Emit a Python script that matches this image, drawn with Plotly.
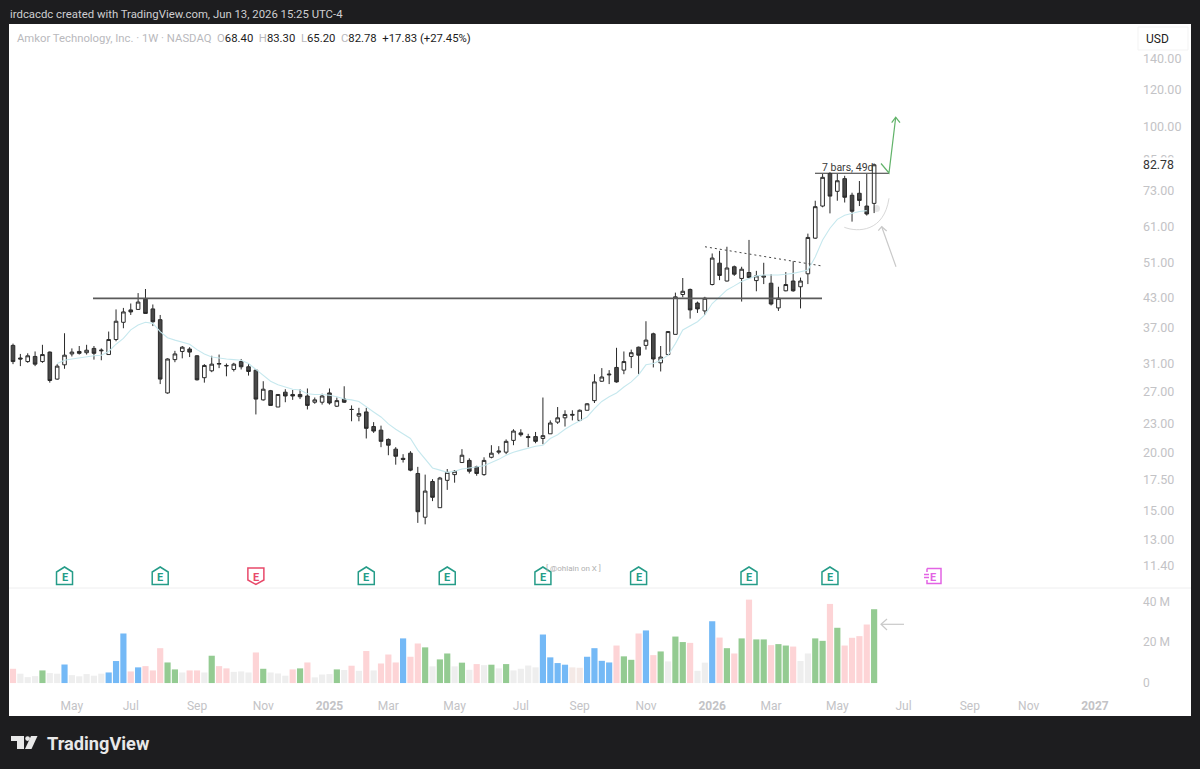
import math
import pandas as pd
import plotly.graph_objects as go

W, H = 1200, 769

# ---------- data ----------
first_week = "2024-03-11"
opens = [33.9,31.85,31.3,32.1,31.3,32.8,28.7,30.8,32.5,32.9,
 32.7,33.4,33.0,32.4,34.9,38.0,40.4,40.5,42.6,40.6,
 38.5,26.8,31.6,32.9,33.3,32.2,28.9,29.9,30.9,30.7,
 30.1,31.3,30.5,30.0,25.9,27.1,25.0,26.9,26.6,26.6,
 26.4,25.6,25.6,26.8,25.1,26.0,24.7,23.9,24.4,22.7,
 22.3,21.3,20.3,19.4,19.9,18.0,14.5,17.3,15.2,17.4,
 17.9,19.0,19.2,18.6,17.9,19.5,20.0,20.0,21.2,22.0,
 21.6,21.6,21.4,21.9,23.2,23.7,24.0,23.4,24.6,25.8,
 28.4,29.3,30.4,30.0,32.1,33.6,33.9,35.9,31.1,32.4,
 35.8,43.6,44.7,41.8,40.2,45.8,50.9,46.6,50.0,47.2,
 48.6,46.7,47.5,46.1,40.8,44.4,46.6,45.3,48.3,57.6,
 67.5,79.3,72.6,77.3,71.2,71.9,67.5,68.40]
highs = [34.2,32.5,32.6,32.9,34.0,32.9,30.9,36.0,33.4,33.8,
 34.0,33.8,33.4,36.3,40.5,40.8,41.7,43.9,44.8,41.5,
 39.4,31.8,33.0,33.8,33.6,32.3,30.9,32.2,32.4,31.0,
 31.1,31.7,30.9,30.1,28.4,27.2,26.6,27.3,27.2,27.3,
 27.4,26.2,26.7,27.4,26.2,27.7,25.2,24.9,24.9,23.2,
 22.8,21.4,20.5,19.8,20.1,18.6,17.9,17.5,17.7,18.4,
 18.3,20.3,19.4,18.7,19.5,20.7,20.6,21.3,22.4,22.4,
 21.9,22.1,26.2,23.4,25.0,24.6,24.6,24.7,25.5,29.4,
 30.3,30.0,33.5,32.9,33.2,33.7,38.2,36.1,33.8,36.4,
 44.0,47.3,44.9,42.1,43.1,53.4,54.1,55.2,50.3,50.0,
 57.1,49.0,51.0,48.2,45.3,48.7,51.4,47.4,58.9,69.3,
 79.1,79.8,79.1,78.4,72.1,76.4,79.1,83.30]
lows = [30.9,30.6,31.1,30.6,31.1,28.2,28.6,30.2,32.1,32.4,
 32.4,31.6,31.5,32.4,34.6,36.9,39.4,40.4,39.7,37.3,
 28.0,26.7,31.2,31.8,32.0,28.5,28.2,29.7,30.3,29.1,
 29.8,30.1,29.2,24.1,25.8,25.2,25.0,25.6,25.9,26.0,
 24.7,25.4,25.3,25.3,25.0,25.5,23.3,23.3,21.4,22.0,
 20.5,19.7,18.8,19.0,18.2,14.1,14.0,15.7,15.2,16.6,
 17.2,19.0,18.0,17.8,17.8,19.4,19.8,19.8,20.7,21.6,
 20.5,20.9,20.8,21.9,23.0,22.7,23.4,23.3,24.6,25.5,
 28.3,28.0,28.2,29.4,30.3,29.4,33.2,30.4,29.8,32.3,
 35.8,43.0,38.7,39.8,39.4,45.6,46.8,46.5,47.8,42.1,
 47.1,44.3,45.9,41.3,40.2,44.3,44.2,40.7,45.9,57.4,
 67.1,65.1,69.3,68.7,62.5,67.5,64.4,65.20]
closes = [31.3,31.7,32.2,30.9,32.4,28.5,30.6,32.3,32.8,32.6,
 33.1,32.6,33.1,34.9,38.2,40.0,40.0,42.0,39.7,38.1,
 28.7,31.7,32.5,33.6,32.8,28.6,30.7,30.9,31.0,30.65,
 30.9,30.5,29.8,26.0,27.3,25.2,26.6,26.4,26.4,26.3,
 25.2,25.9,26.4,25.5,25.8,25.6,24.7,24.2,22.5,22.2,
 21.1,20.7,19.6,19.3,18.3,14.9,16.5,16.0,17.6,18.1,
 18.2,19.7,18.2,18.0,19.2,19.9,20.1,21.1,22.2,21.8,
 21.5,21.1,21.7,23.1,23.7,24.1,24.1,24.6,25.4,28.3,
 29.0,29.4,28.3,31.3,32.7,32.3,34.8,31.7,32.0,36.3,
 43.1,44.3,40.4,40.6,42.8,52.2,47.9,49.7,48.2,49.4,
 47.4,47.8,47.8,41.6,42.8,45.8,44.4,46.6,57.8,67.3,
 77.8,70.9,76.5,70.5,65.8,69.4,64.9,82.78]
# moving average, starts at the seventh week
ma_values = [31.0,31.5,31.7,31.9,
 32.1,32.2,32.3,32.9,34.1,35.1,36.6,37.5,38.0,37.8,
 36.3,35.2,34.8,34.5,34.1,33.2,32.5,32.0,31.8,31.7,
 31.6,31.5,31.0,30.1,29.2,28.4,27.9,27.6,27.3,27.2,
 26.7,26.6,26.6,26.5,26.3,26.0,25.9,25.7,25.0,24.4,
 23.8,23.0,22.4,21.9,21.4,20.2,19.3,18.5,18.3,18.1,
 18.2,18.4,18.5,18.6,18.7,19.0,19.3,19.7,20.0,20.2,
 20.4,20.6,20.7,21.4,21.8,22.4,22.9,23.3,23.8,24.8,
 25.7,26.3,26.8,27.6,28.3,29.3,30.8,31.0,31.5,32.3,
 34.2,36.6,37.3,38.1,39.4,41.7,43.1,44.6,45.5,46.5,
 47.2,47.8,48.0,48.0,48.0,48.2,48.4,48.8,49.2,52.5,
 57.1,60.5,63.2,64.5,65.1,65.7,66.0]
volumes_m = [7.0,4.6,2.9,3.4,6.2,4.9,4.6,9.1,3.9,3.3,
 4.4,3.6,4.6,5.2,10.8,24.3,5.7,7.7,8.3,6.2,
 17.1,10.1,6.7,5.2,6.2,6.2,5.2,13.4,8.3,7.2,
 5.5,5.7,5.2,15.0,7.0,5.2,4.7,3.6,6.7,7.2,
 10.1,2.8,4.2,4.4,6.7,6.4,8.5,6.0,15.7,6.2,
 9.6,14.0,10.1,21.9,12.9,19.4,17.5,8.2,11.6,14.5,
 8.2,10.0,6.5,9.3,8.8,9.0,7.2,9.3,6.2,7.0,
 8.6,7.7,23.8,12.6,9.8,9.0,7.7,7.5,12.9,17.1,
 10.9,10.1,18.4,13.1,11.4,24.3,25.8,13.7,15.5,10.6,
 22.8,20.1,19.7,6.0,10.0,30.3,22.3,17.1,14.5,21.9,
 40.9,21.4,21.4,18.6,19.1,18.4,17.9,10.8,14.5,21.9,
 20.7,38.8,27.1,18.4,22.2,23.0,28.7,36.2]
volume_kind = list("dnnnunnsnn" "nnnsssdsdd" "duunddnudd" "nnndunnndu" "dnnnundndn" "dddsddunuu"
                   "nundnununn" "nnssssqqss" "ssduudsdun" "uudnnsdudu" "duuduudnnu" "ududdddu")

price_ticks = [140, 120, 100, 85, 73, 61, 51, 43, 37, 31, 27, 23, 20, 17.5, 15, 13, 11.4]
volume_ticks = [0, 20, 40]
volume_tick_text = ["0", "20 M", "40 M"]
time_tick_bars = [8, 16, 25, 34, 43, 51, 60, 69, 77, 86, 95, 103, 112, 121, 130, 138, 147]
time_tick_text = ["May", "Jul", "Sep", "Nov", "<b>2025</b>", "Mar", "May", "Jul", "Sep", "Nov",
                  "<b>2026</b>", "Mar", "May", "Jul", "Sep", "Nov", "<b>2027</b>"]
earnings_bars = [7, 20, 33, 48, 59, 72, 85, 100, 111, 125]
earnings_kind = ["beat", "beat", "miss", "beat", "beat", "beat", "beat", "beat", "beat", "next"]

resistance_price = 42.77
pivot_price = 79.4
trend_prices = [55.2, 50.2]

# ---------- helpers ----------
t0 = pd.Timestamp(first_week)
def bar_time(i):
    return (t0 + pd.Timedelta(days=7 * i)).strftime("%Y-%m-%d %H:%M")
weeks = [bar_time(i) for i in range(len(closes))]
def fx(x): return x / W
def fy(y): return 1 - y / H
def pxi(x): return (x - 13) / 7.36
def path(pts, close=False):
    s = "M" + " L".join(f"{fx(x):.5f},{fy(y):.5f}" for x, y in pts)
    return s + (" Z" if close else "")

FONT = "Roboto, 'Liberation Sans', sans-serif"
TICK = "#c3c3c6"
BG = "#1d1d1f"
COL = {"u": "#94cb92", "d": "#fdd4d6", "n": "#eeeeee", "s": "#74b9f6", "q": "#f4e9e6"}

fig = go.Figure()
fig.add_trace(go.Bar(x=weeks, y=volumes_m, xaxis="x2", yaxis="y2",
                     marker=dict(color=[COL[k] for k in volume_kind], line_width=0), hoverinfo="skip"))
fig.add_trace(go.Scatter(x=weeks[6:6 + len(ma_values)], y=ma_values, mode="lines",
                         line=dict(color="#c6e8ee", width=1.1), hoverinfo="skip"))
fig.add_trace(go.Candlestick(x=weeks, open=opens, high=highs, low=lows, close=closes,
                             increasing=dict(line=dict(color="#2a2a2a", width=1), fillcolor="#ffffff"),
                             decreasing=dict(line=dict(color="#2a2a2a", width=1), fillcolor="#484848"),
                             whiskerwidth=0))
fig.add_trace(go.Scatter(x=[bar_time(pxi(93)), bar_time(pxi(822))], y=[resistance_price] * 2, mode="lines",
                         line=dict(color="#5a5a5a", width=1.6), hoverinfo="skip"))
fig.add_trace(go.Scatter(x=[bar_time(pxi(815)), bar_time(pxi(889))], y=[pivot_price] * 2, mode="lines",
                         line=dict(color="#333333", width=1.1), hoverinfo="skip"))
fig.add_trace(go.Scatter(x=[bar_time(pxi(705)), bar_time(pxi(822))], y=trend_prices, mode="lines",
                         line=dict(color="#444444", width=1, dash="2px 3px"), hoverinfo="skip"))

shapes = [
    dict(type="rect", xref="paper", yref="paper", x0=fx(9), x1=fx(1191), y0=fy(716), y1=fy(24),
         fillcolor="#ffffff", line_width=0, layer="below"),
    dict(type="line", xref="paper", yref="paper", x0=fx(9), x1=fx(1191), y0=fy(588), y1=fy(588),
         line=dict(color="#eeeeef", width=1), layer="below"),
    dict(type="rect", xref="paper", yref="paper", x0=fx(1138), x1=fx(1188), y0=fy(50), y1=fy(27),
         fillcolor="#ffffff", line=dict(color="#f3f3f3", width=1)),
]
def draw(pts, color, width=1.2, fill=None, close=False):
    shapes.append(dict(type="path", xref="paper", yref="paper", path=path(pts, close),
                       line=dict(color=color, width=width), fillcolor=fill or "rgba(0,0,0,0)"))
# green target arrow
draw([(881, 163.5), (889, 173), (895.7, 117.3)], "#62b36a")
draw([(891.7, 122.7), (895.7, 117.3), (900, 122.7)], "#62b36a")
# grey pointer and cup
draw([(896, 266.7), (881.7, 226.7)], "#c9c9c9")
draw([(878.3, 230.7), (881.7, 226.7), (886.7, 231)], "#c9c9c9")
shapes.append(dict(type="path", xref="paper", yref="paper",
                   path=f"M{fx(844.3):.5f},{fy(227.3):.5f} C{fx(858):.5f},{fy(232.5):.5f} {fx(884):.5f},{fy(232):.5f} {fx(889):.5f},{fy(198.3):.5f}",
                   line=dict(color="#d8d8d8", width=1), fillcolor="rgba(0,0,0,0)"))
shapes.append(dict(type="circle", xref="paper", yref="paper", x0=fx(873), x1=fx(880), y0=fy(212), y1=fy(205),
                   fillcolor="#e6e6e6", line_width=0, layer="below"))
# volume arrow
draw([(881, 624.3), (904, 624.3)], "#c9c9c9")
draw([(887, 619), (881, 624.3), (887, 630)], "#c9c9c9")

anns = []
def text(x, y, s, size, color, anchor="left", **kw):
    anns.append(dict(xref="paper", yref="paper", x=fx(x), y=fy(y), text=s, showarrow=False, xanchor=anchor,
                     yanchor="middle", font=dict(family=FONT, size=size, color=color), **kw))

# earnings tags
TAG = {"beat": "#259c88", "miss": "#e8496a", "next": "#e264e4"}
HOUSE = "M-8,-8.5 L8,-8.5 L8,4 L0,9 L-8,4 Z"
SHIELD = "M-8,8 L8,8 L8,-4 L0,-8.5 L-8,-4 Z"
CAL = "M-6,7.5 L8,7.5 L8,-7.5 L-6,-7.5 L-6,-4 M-6,4 L-6,7.5 M-9,1.5 L-4,1.5 M-9,-1.5 L-4,-1.5"
anns_tag_y = fy(576)
text(544, 568, "[ @ohlain on X ]", 8, "#b0b0b0")
for b, k in zip(earnings_bars, earnings_kind):
    p = {"beat": HOUSE, "miss": SHIELD, "next": CAL}[k]
    shapes.append(dict(type="path", xref="x", yref="paper", xsizemode="pixel", ysizemode="pixel",
                       xanchor=bar_time(b), yanchor=anns_tag_y, path=p,
                       line=dict(color=TAG[k], width=1.5), fillcolor="#ffffff"))
    anns.append(dict(xref="x", yref="paper", x=bar_time(b), y=anns_tag_y - 1 / H, text="<b>E</b>", showarrow=False,
                     font=dict(family=FONT, size=11, color=TAG[k]), xanchor="center", yanchor="middle"))

text(8, 14, "irdcacdc created with TradingView.com, Jun 13, 2026 15:25 UTC-4", 11.35, "#cfcfd1")
G = "#b9b9bd"
hdr = (f"<span style='color:{G}'>Amkor Technology, Inc. · 1W · NASDAQ</span>&nbsp;&nbsp;"
       f"<span style='color:{G}'>O</span>68.40&nbsp;&nbsp;<span style='color:{G}'>H</span>83.30&nbsp;&nbsp;"
       f"<span style='color:{G}'>L</span>65.20&nbsp;&nbsp;<span style='color:{G}'>C</span>82.78&nbsp;&nbsp;+17.83 (+27.45%)")
text(15, 38, hdr, 11.3, "#1c1c1c")
text(1157, 39, "USD", 12, "#222222", anchor="center")
text(1142, 165, "82.78", 12.3, "#333333", bgcolor="#ffffff", borderpad=0)
text(848, 167.5, "7 bars, 49d", 10.5, "#3a3a3a", anchor="center")
text(45, 743, "<b>TradingView</b>", 18.2, "#e8e8e8")

# TradingView mark
shapes.append(dict(type="path", xref="paper", yref="paper", line_width=0, fillcolor="#e8e8e8",
                   path=path([(11, 736), (24, 736), (24, 749), (17, 749), (17, 741), (11, 741)], True)))
shapes.append(dict(type="circle", xref="paper", yref="paper", line_width=0, fillcolor="#e8e8e8",
                   x0=fx(25.2), x1=fx(30), y0=fy(741), y1=fy(736.2)))
shapes.append(dict(type="path", xref="paper", yref="paper", line_width=0, fillcolor="#e8e8e8",
                   path=path([(31, 736), (37.5, 736), (31.5, 749), (25, 749)], True)))

xr = [bar_time(pxi(9)), bar_time(pxi(1134))]
price_at_top = 166.0
price_at_bottom = 10.22
axis_common = dict(range=xr, type="date", showgrid=False, zeroline=False, showline=False, ticks="")

fig.update_layout(
    width=W, height=H, autosize=False, showlegend=False, bargap=0.16,
    margin=dict(l=0, r=0, t=0, b=0),
    paper_bgcolor=BG, plot_bgcolor="rgba(0,0,0,0)",
    font=dict(family=FONT, color=TICK),
    xaxis=dict(domain=[fx(9), fx(1134)], anchor="y", showticklabels=False,
               rangeslider=dict(visible=False), **axis_common),
    xaxis2=dict(domain=[fx(9), fx(1134)], anchor="y2", matches="x",
                tickmode="array", tickvals=[bar_time(b) for b in time_tick_bars], ticktext=time_tick_text,
                tickfont=dict(size=12, color=TICK), ticklabelstandoff=7, **axis_common),
    yaxis=dict(domain=[fy(588), fy(24)], anchor="x", side="right", type="log",
               range=[math.log10(price_at_bottom), math.log10(price_at_top)],
               showgrid=False, zeroline=False, showline=False, ticks="",
               tickmode="array", tickvals=price_ticks, ticktext=[f"{v:.2f}" for v in price_ticks],
               tickfont=dict(size=12.5, color=TICK), ticklabelstandoff=8),
    yaxis2=dict(domain=[fy(690), fy(588)], anchor="x2", side="right",
                range=[-3.4, 46.6], showgrid=False, zeroline=False, showline=False, ticks="",
                tickmode="array", tickvals=volume_ticks, ticktext=volume_tick_text,
                tickfont=dict(size=12, color=TICK), ticklabelstandoff=8),
    shapes=shapes, annotations=anns,
)
fig.write_html("out.html", config=dict(displayModeBar=False),
               post_script="document.body.style.margin='0';document.documentElement.style.overflow='hidden';document.documentElement.style.background='#1d1d1f';")
